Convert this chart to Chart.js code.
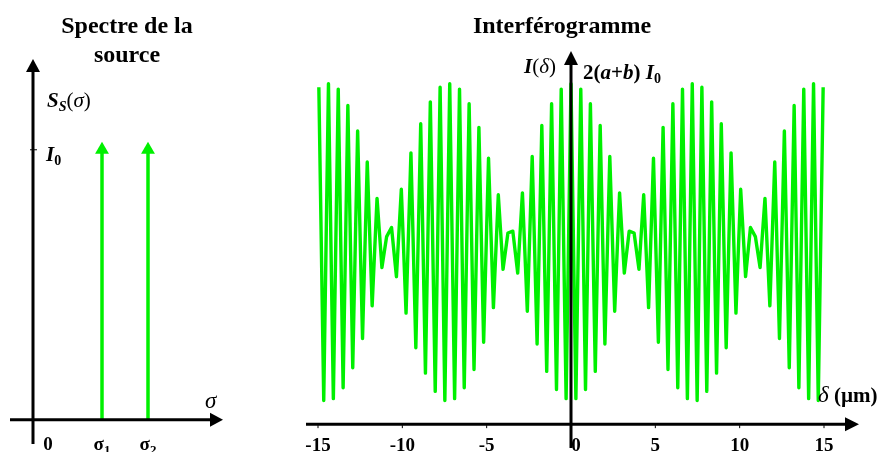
<!DOCTYPE html>
<html>
<head>
<meta charset="utf-8">
<script src="https://cdn.jsdelivr.net/npm/chart.js@4"></script>
<style>
    body { margin: 0; background: #fff; }
    #wrap { position: relative; width: 880px; height: 452px; }
    canvas { position: absolute; top: 0; }
    #spec { left: 0; }
    #interf { left: 280px; }
</style>
</head>
<body>
<div id="wrap">
    <canvas id="spec" width="260" height="452"></canvas>
    <canvas id="interf" width="600" height="452"></canvas>
</div>
<script>
// Spectre de la source : deux raies de même hauteur I0
const sigmaPos = [0, 1.5, 2.5];
const sigmaLabels = ['0', 'σ1', 'σ2'];
const raies = [1.5, 2.5];
const raieHeights = [1, 1];

// Interférogramme : extrema (δ en µm, I en unités de la valeur moyenne)
const deltaTicks = [-15, -10, -5, 0, 5, 10, 15];
const delta = [
    -14.95, -14.66, -14.38, -14.09, -13.80, -13.51, -13.23, -12.94, -12.65, -12.36,
    -12.08, -11.79, -11.50, -11.21, -10.93, -10.64, -10.35, -10.06, -9.78, -9.49,
    -9.20, -8.91, -8.63, -8.34, -8.05, -7.76, -7.48, -7.19, -6.90, -6.61,
    -6.33, -6.04, -5.75, -5.46, -5.18, -4.89, -4.60, -4.31, -4.03, -3.74,
    -3.45, -3.16, -2.88, -2.59, -2.30, -2.01, -1.73, -1.44, -1.15, -0.86,
    -0.58, -0.29,
    0, 0.29, 0.58, 0.86, 1.15, 1.44, 1.73, 2.01, 2.30, 2.59,
    2.88, 3.16, 3.45, 3.74, 4.03, 4.31, 4.60, 4.89, 5.18, 5.46,
    5.75, 6.04, 6.33, 6.61, 6.90, 7.19, 7.48, 7.76, 8.05, 8.34,
    8.63, 8.91, 9.20, 9.49, 9.78, 10.06, 10.35, 10.64, 10.93, 11.21,
    11.50, 11.79, 12.08, 12.36, 12.65, 12.94, 13.23, 13.51, 13.80, 14.09,
    14.38, 14.66, 14.95
];
const intensity = [
    1.85, 0.13, 1.87, 0.14, 1.84, 0.20, 1.75, 0.31, 1.61, 0.47,
    1.44, 0.65, 1.24, 0.86, 1.03, 1.08, 0.81, 1.29, 0.61, 1.49,
    0.42, 1.65, 0.28, 1.77, 0.18, 1.85, 0.13, 1.87, 0.14, 1.84,
    0.20, 1.76, 0.30, 1.63, 0.45, 1.46, 0.64, 1.26, 0.85, 1.05,
    1.06, 0.83, 1.27, 0.62, 1.47, 0.44, 1.64, 0.29, 1.76, 0.19,
    1.84, 0.14,
    1.87, 0.14, 1.84, 0.19, 1.76, 0.29, 1.64, 0.44, 1.47, 0.62,
    1.27, 0.83, 1.06, 1.05, 0.85, 1.26, 0.64, 1.46, 0.45, 1.63,
    0.30, 1.76, 0.20, 1.84, 0.14, 1.87, 0.13, 1.85, 0.18, 1.77,
    0.28, 1.65, 0.42, 1.49, 0.61, 1.29, 0.81, 1.08, 1.03, 0.86,
    1.24, 0.65, 1.44, 0.47, 1.61, 0.31, 1.75, 0.20, 1.84, 0.14,
    1.87, 0.13, 1.85
];

const serif = '"Liberation Serif", "DejaVu Serif", serif';
const green = '#00f000';

function arrowLine(ctx, x1, y1, x2, y2, head, half) {
    const ang = Math.atan2(y2 - y1, x2 - x1);
    const bx = x2 - Math.cos(ang) * head;
    const by = y2 - Math.sin(ang) * head;
    ctx.beginPath();
    ctx.moveTo(x1, y1);
    ctx.lineTo(bx, by);
    ctx.stroke();
    ctx.beginPath();
    ctx.moveTo(x2, y2);
    ctx.lineTo(bx - Math.sin(ang) * half, by + Math.cos(ang) * half);
    ctx.lineTo(bx + Math.sin(ang) * half, by - Math.cos(ang) * half);
    ctx.closePath();
    ctx.fill();
}

// texte composé de morceaux [texte, police, décalage vertical]
function drawRuns(ctx, x, y, parts, align) {
    let w = 0;
    parts.forEach(p => { ctx.font = p[1]; w += ctx.measureText(p[0]).width; });
    let cx = align === 'center' ? x - w / 2 : align === 'right' ? x - w : x;
    ctx.textAlign = 'left';
    ctx.textBaseline = 'alphabetic';
    parts.forEach(p => {
        ctx.font = p[1];
        ctx.fillText(p[0], cx, y + (p[2] || 0));
        cx += ctx.measureText(p[0]).width;
    });
}

const specDecor = {
    id: 'specDecor',
    afterDraw(chart) {
        const ctx = chart.ctx;
        const xs = chart.scales.x, ys = chart.scales.y;
        const x0 = xs.getPixelForValue(0), y0 = ys.getPixelForValue(0);
        const yI0 = ys.getPixelForValue(1);
        ctx.save();
        ctx.fillStyle = '#000';
        ctx.strokeStyle = '#000';
        ctx.lineWidth = 3;
        arrowLine(ctx, xs.left - 23, y0, xs.right + 6, y0, 13, 7);
        arrowLine(ctx, x0, ys.bottom, x0, ys.top + 1, 13, 7);
        ctx.lineWidth = 1;
        ctx.beginPath();
        ctx.moveTo(x0 - 3, yI0);
        ctx.lineTo(x0 + 4, yI0);
        ctx.stroke();

        const b24 = 'bold 24px ' + serif;
        drawRuns(ctx, 127, 33, [['Spectre de la', b24]], 'center');
        drawRuns(ctx, 127, 62, [['source', b24]], 'center');

        drawRuns(ctx, x0 + 14, 107, [
            ['S', 'italic bold 21px ' + serif],
            ['S', 'italic bold 14px ' + serif, 4],
            ['(', '21px ' + serif],
            ['σ', 'italic 21px ' + serif],
            [')', '21px ' + serif]
        ], 'left');
        drawRuns(ctx, x0 + 13, yI0 + 11, [
            ['I', 'italic bold 21px ' + serif],
            ['0', 'bold 14px ' + serif, 4]
        ], 'left');
        drawRuns(ctx, xs.right - 12, y0 - 12, [['σ', 'italic 23px ' + serif]], 'left');

        sigmaPos.forEach((v, i) => {
            const lab = sigmaLabels[i];
            const px = xs.getPixelForValue(v) + (v === 0 ? 15 : 0);
            if (lab.length > 1) {
                drawRuns(ctx, px, 450, [
                    [lab[0], 'bold 19px ' + serif],
                    [lab.slice(1), 'bold 13px ' + serif, 4]
                ], 'center');
            } else {
                drawRuns(ctx, px, 450, [[lab, 'bold 19px ' + serif]], 'center');
            }
        });
        ctx.restore();
    }
};

const interfDecor = {
    id: 'interfDecor',
    afterDraw(chart) {
        const ctx = chart.ctx;
        const xs = chart.scales.x, ys = chart.scales.y;
        const x0 = xs.getPixelForValue(0), y0 = ys.getPixelForValue(0);
        ctx.save();
        ctx.fillStyle = '#000';
        ctx.strokeStyle = '#000';
        ctx.lineWidth = 3;
        arrowLine(ctx, xs.left - 12, y0, xs.right + 35, y0, 14, 7);
        arrowLine(ctx, x0, ys.bottom + 2, x0, ys.top - 9, 14, 7);

        ctx.lineWidth = 1;
        deltaTicks.forEach(v => {
            const px = xs.getPixelForValue(v);
            ctx.beginPath();
            ctx.moveTo(px, y0 + 1);
            ctx.lineTo(px, y0 + 4);
            ctx.stroke();
            drawRuns(ctx, px + (v === 0 ? 5 : 0), 451, [[String(v), 'bold 19px ' + serif]], 'center');
        });

        drawRuns(ctx, x0 - 9, 33, [['Interférogramme', 'bold 24px ' + serif]], 'center');

        drawRuns(ctx, x0 - 15, 73, [
            ['I', 'italic bold 21px ' + serif],
            ['(', '21px ' + serif],
            ['δ', 'italic 21px ' + serif],
            [')', '21px ' + serif]
        ], 'right');
        const b = 'bold 21px ' + serif, bi = 'italic bold 21px ' + serif;
        drawRuns(ctx, x0 + 12, 79, [
            ['2(', b], ['a', bi], ['+', b], ['b', bi], [') ', b],
            ['I', bi], ['0', 'bold 14px ' + serif, 4]
        ], 'left');
        drawRuns(ctx, xs.right - 6, 402, [
            ['δ', 'italic 23px ' + serif],
            [' (µm)', 'bold 21px ' + serif]
        ], 'left');
        ctx.restore();
    }
};

const common = {
    responsive: false,
    animation: false,
    devicePixelRatio: 1,
    events: [],
    plugins: { legend: { display: false }, tooltip: { enabled: false } }
};

new Chart(document.getElementById('spec').getContext('2d'), {
    type: 'line',
    data: {
        datasets: raies.map((s, i) => ({
            data: [{ x: s, y: 0 }, { x: s, y: raieHeights[i] }],
            borderColor: green,
            borderWidth: 3.5,
            pointStyle: 'triangle',
            pointRadius: [0, 8],
            pointBackgroundColor: green,
            pointBorderWidth: 0,
            clip: false
        }))
    },
    options: {
        ...common,
        layout: { padding: { left: 33, right: 43, top: 58, bottom: 4 } },
        scales: {
            x: { type: 'linear', min: 0, max: 4, display: false },
            y: { min: -0.09, max: 1.34, display: false }
        }
    },
    plugins: [specDecor]
});

new Chart(document.getElementById('interf').getContext('2d'), {
    type: 'line',
    data: {
        datasets: [{
            data: delta.map((d, i) => ({ x: d, y: intensity[i] })),
            borderColor: green,
            borderWidth: 3.4,
            borderJoinStyle: 'round',
            pointRadius: 0,
            tension: 0,
            clip: false
        }]
    },
    options: {
        ...common,
        layout: { padding: { left: 38, right: 56, top: 60, bottom: 6 } },
        scales: {
            x: { type: 'linear', min: -15, max: 15, display: false },
            y: { min: -0.12, max: 2.0, display: false }
        }
    },
    plugins: [interfDecor]
});
</script>
</body>
</html>
